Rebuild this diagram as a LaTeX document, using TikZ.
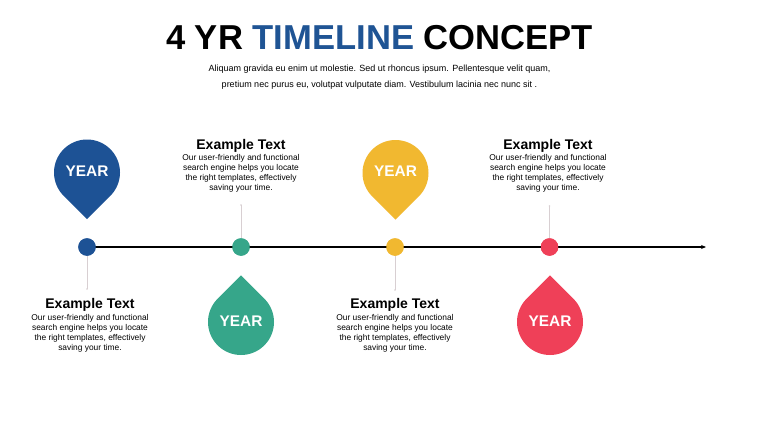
\documentclass[tikz,border=0pt]{standalone}
\usepackage{fontspec}
\setmainfont{Liberation Sans}
\usetikzlibrary{arrows.meta}
\definecolor{tlblue}{HTML}{1D5295}
\definecolor{tltitleblue}{HTML}{1F5494}
\definecolor{tlgreen}{HTML}{36A68A}
\definecolor{tlyellow}{HTML}{F1B830}
\definecolor{tlred}{HTML}{EF4058}
\definecolor{tlgray}{HTML}{D8CFD2}
\tikzset{
  x=1pt, y=1pt,
  pics/pindown/.style={code={\fill[#1] (-45:33pt) arc[start angle=-45,end angle=225,radius=33pt] -- (0,-46.7pt) -- cycle;}},
  pics/pinup/.style={code={\fill[#1] (45:33pt) arc[start angle=45,end angle=-225,radius=33pt] -- (0,46.7pt) -- cycle;}},
  yeartext/.style={anchor=base, inner sep=0, text=white, font=\fontsize{15.4}{18}\selectfont\bfseries},
  dotnode/.style={circle, fill=#1, minimum size=17.5pt, inner sep=0},
  headtext/.style={anchor=base, inner sep=0, font=\fontsize{14}{16}\selectfont\bfseries},
  bodytext/.style={anchor=north, inner sep=0, align=center, font=\fontsize{8.4}{10}\selectfont},
  subtext/.style={anchor=base, inner sep=0, font=\fontsize{9}{11}\selectfont},
  linkline/.style={draw=tlgray, line width=0.8pt},
  linkend/.style={fill=tlgray},
}
\begin{document}
\begin{tikzpicture}
\useasboundingbox (0,0) rectangle (760,-428);
\fill[white] (0,0) rectangle (760,-428);

% title
\node[anchor=base, inner sep=0, font=\fontsize{34.6}{40}\selectfont\bfseries] (title) at (379.5,-50)
  {4 YR {\color{tltitleblue}TIMELINE} CONCEPT};
\node[subtext] (sub1) at (379.5,-71.5) {Aliquam gravida eu enim ut molestie. Sed ut rhoncus ipsum. Pellentesque velit quam,};
\node[subtext] (sub2) at (379.5,-88) {pretium nec purus eu, volutpat vulputate diam. Vestibulum lacinia nec nunc sit .};

% timeline
\coordinate (lineend) at (706,-247);
\node[dotnode=tlblue] (d1) at (87,-247) {};
\node[dotnode=tlgreen] (d2) at (241,-247) {};
\node[dotnode=tlyellow] (d3) at (395,-247) {};
\node[dotnode=tlred] (d4) at (549.5,-247) {};
\draw[line width=1.2pt, -{Stealth[length=5pt,width=4pt]}] (d1.center) -- (lineend);
\node[dotnode=tlblue] at (d1) {};
\node[dotnode=tlgreen] at (d2) {};
\node[dotnode=tlyellow] at (d3) {};
\node[dotnode=tlred] at (d4) {};

% connectors
\coordinate (c1) at (87,-289);
\coordinate (c2) at (241,-205);
\coordinate (c3) at (395,-290);
\coordinate (c4) at (549.5,-206);
\draw[linkline] (d1.south) -- (c1);
\draw[linkline] (c2) -- (d2.north);
\draw[linkline] (d3.south) -- (c3);
\draw[linkline] (c4) -- (d4.north);
\foreach \c in {c1,c2,c3,c4} \fill[linkend] (\c) circle (0.9pt);

% pins
\pic at (87,-172.5) {pindown=tlblue};
\node[yeartext] (y1) at (87,-176) {YEAR};
\pic at (395.5,-173) {pindown=tlyellow};
\node[yeartext] (y3) at (395.5,-176) {YEAR};
\pic at (241,-322) {pinup=tlgreen};
\node[yeartext] (y2) at (241,-326) {YEAR};
\pic at (550,-322) {pinup=tlred};
\node[yeartext] (y4) at (550,-326) {YEAR};

% text blocks
\node[headtext] (h2) at (241,-149) {Example Text};
\node[bodytext] (b2) at (241,-153.8) {Our user-friendly and functional\\search engine helps you locate\\the right templates, effectively\\saving your time.};
\node[headtext] (h4) at (548,-149) {Example Text};
\node[bodytext] (b4) at (548,-153.8) {Our user-friendly and functional\\search engine helps you locate\\the right templates, effectively\\saving your time.};
\node[headtext] (h1) at (90,-308) {Example Text};
\node[bodytext] (b1) at (90,-313.8) {Our user-friendly and functional\\search engine helps you locate\\the right templates, effectively\\saving your time.};
\node[headtext] (h3) at (395,-308) {Example Text};
\node[bodytext] (b3) at (395,-313.8) {Our user-friendly and functional\\search engine helps you locate\\the right templates, effectively\\saving your time.};
\end{tikzpicture}
\end{document}
